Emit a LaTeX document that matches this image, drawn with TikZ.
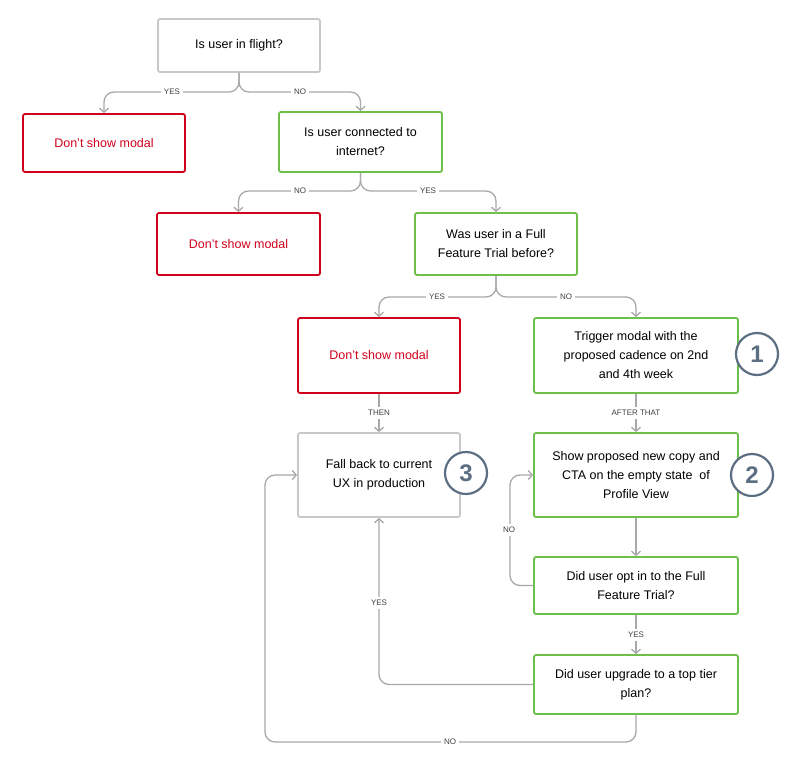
\documentclass[tikz,border=0pt]{standalone}
\usepackage{fontspec}
\setmainfont{Liberation Sans}
\usetikzlibrary{arrows.meta}
\definecolor{red1}{HTML}{D0021B}
\definecolor{grn}{HTML}{6CC04A}
\definecolor{gbox}{HTML}{C8C8C8}
\definecolor{ln}{HTML}{A8A8A8}
\definecolor{circ}{HTML}{5B6E82}
\begin{document}
\begin{tikzpicture}[x=1pt,y=-1pt,
  box/.style={draw, line width=1.8pt, rounded corners=2pt, fill=white, align=center, font=\fontsize{12.5}{19}\selectfont, inner sep=0pt},
  q/.style={box, draw=grn},
  r/.style={box, draw=red1, text=red1},
  g/.style={box, draw=gbox},
  conn/.style={draw=ln, line width=1.3pt, rounded corners=10pt, -{Straight Barb[length=4pt,width=9pt]}},
  lab/.style={fill=white, text=black!75, font=\fontsize{8}{9}\selectfont, inner sep=3pt},
  num/.style={circle, draw=circ, line width=2.2pt, fill=white, text=circ, font=\fontsize{24}{24}\selectfont\bfseries, minimum size=42pt, inner sep=0pt}]
\useasboundingbox (0,0) rectangle (800,773);
\node[g, minimum width=162pt, minimum height=53pt] (A) at (239,45.5) {Is user in flight?};
\node[r, minimum width=162pt, minimum height=58pt] (B) at (104,143) {Don’t show modal};
\node[q, minimum width=163pt, minimum height=60pt] (C) at (360.5,142) {Is user connected to\\internet?};
\node[r, minimum width=163pt, minimum height=62pt] (D) at (238.5,244) {Don’t show modal};
\node[q, minimum width=162pt, minimum height=62pt] (E) at (496,244) {Was user in a Full\\Feature Trial before?};
\node[r, minimum width=162pt, minimum height=75pt] (F) at (379,355.5) {Don’t show modal};
\node[q, minimum width=204pt, minimum height=75pt] (G) at (636,355.5) {Trigger modal with the\\proposed cadence on 2nd\\and 4th week};
\node[g, minimum width=162pt, minimum height=84pt] (H) at (379,475) {Fall back to current\\UX in production};
\node[q, minimum width=204pt, minimum height=84pt] (I) at (636,475) {Show proposed new copy and\\CTA on the empty state\ \ of\\Profile View};
\node[q, minimum width=204pt, minimum height=57pt] (J) at (636,585.5) {Did user opt in to the Full\\Feature Trial?};
\node[q, minimum width=204pt, minimum height=59pt] (K) at (636,684.5) {Did user upgrade to a top tier\\plan?};
\node[num] (n1) at (757,354) {1};
\node[num] (n2) at (752,475) {2};
\node[num] (n3) at (466,473) {3};
% connectors
\draw[conn] (A.south) |- (B.north|-0,92) -- (B.north);
\draw[conn] (A.south) |- (C.north|-0,92) -- (C.north);
\draw[conn] (C.south) |- (D.north|-0,191) -- (D.north);
\draw[conn] (C.south) |- (E.north|-0,191) -- (E.north);
\draw[conn] (E.south) |- (F.north|-0,297) -- (F.north);
\draw[conn] (E.south) |- (G.north|-0,297) -- (G.north);
\draw[conn] (F.south) -- (H.north);
\draw[conn] (G.south) -- (I.north);
\draw[conn] (I.south) -- (J.north);
\draw[conn] (J.west) -- (510,585.5) |- (I.west);
\draw[conn] (J.south) -- (K.north);
\draw[conn] (K.west) -| (H.south);
\draw[conn] (K.south) |- (265,742) |- (H.west);
% labels
\node[lab] (l1) at (172,92) {YES};
\node[lab] (l2) at (300,92) {NO};
\node[lab] (l3) at (300,191) {NO};
\node[lab] (l4) at (428,191) {YES};
\node[lab] (l5) at (437,297) {YES};
\node[lab] (l6) at (566,297) {NO};
\node[lab] (l7) at (379,413) {THEN};
\node[lab] (l8) at (636,413) {AFTER THAT};
\node[lab] (l9) at (509,530) {NO};
\node[lab] (l10) at (636,635) {YES};
\node[lab] (l11) at (379,603) {YES};
\node[lab] (l12) at (450,742) {NO};
\end{tikzpicture}
\end{document}
